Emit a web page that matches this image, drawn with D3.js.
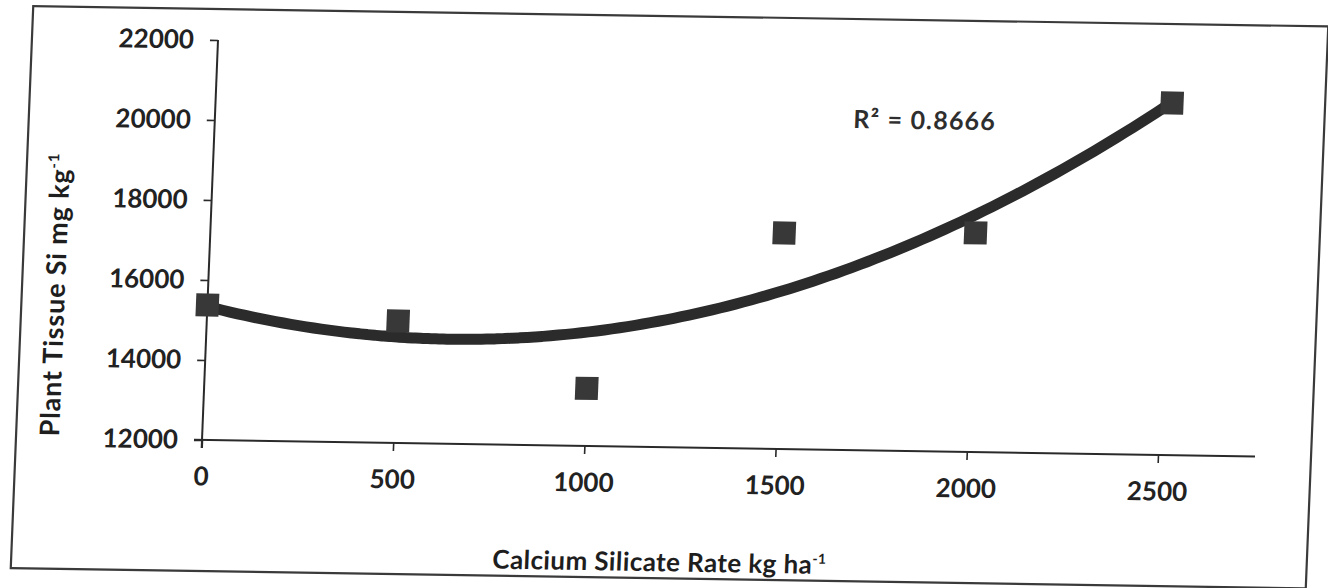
<!DOCTYPE html>
<html>
<head>
<meta charset="utf-8">
<script src="https://cdn.jsdelivr.net/npm/d3@7"></script>
<style>
  html, body { margin: 0; padding: 0; background: #ffffff; }
  svg { display: block; }
  text { font-family: Lato, "Open Sans", sans-serif; }
</style>
</head>
<body>
<svg id="chart" width="1328" height="588"></svg>
<script>
// ---- data ----
const rates = [0, 500, 1000, 1500, 2000, 2500];              // Calcium silicate rate, kg ha-1
const tissueSi = [15375, 15050, 13440, 17400, 17480, 20800]; // Plant tissue Si, mg kg-1
const xTickValues = [0, 500, 1000, 1500, 2000, 2500];
const yTickValues = [12000, 14000, 16000, 18000, 20000, 22000];
const r2Label = "R² = 0.8666";
const xTitle = "Calcium Silicate Rate kg ha";
const yTitle = "Plant Tissue Si mg kg";

// ---- layout ----
const W = 1328, H = 588;
const plotW = 956, plotH = 400;
const svg = d3.select("#chart");
svg.append("rect").attr("width", W).attr("height", H).attr("fill", "#fff");

// scanned page is slightly skewed; reproduce with a matrix on the chart group
const g = svg.append("g").attr("transform", "matrix(1,0.0157,-0.04,1,202,440)");

const x = d3.scaleLinear().domain([0, 2500]).range([0, plotW]);
const y = d3.scaleLinear().domain([12000, 22000]).range([0, -plotH]);

// outer frame
g.append("rect")
  .attr("x", -186).attr("y", -431).attr("width", 1295).attr("height", 562)
  .attr("fill", "none").attr("stroke", "#3a3a3a").attr("stroke-width", 2.2);

// axes
const ink = "#2a2a2a";
const xAxis = g.append("g")
  .call(d3.axisBottom(x).tickValues(xTickValues).tickSize(8).tickSizeOuter(0).tickPadding(19).tickFormat(d3.format("d")));
const yAxis = g.append("g")
  .call(d3.axisLeft(y).tickValues(yTickValues).tickSize(8).tickSizeOuter(0).tickPadding(16).tickFormat(d3.format("d")));
[xAxis, yAxis].forEach(a => {
  a.select(".domain").remove();
  a.selectAll(".tick line").attr("stroke", ink).attr("stroke-width", 1.6);
  a.selectAll(".tick text").attr("fill", "#222").style("font-size", "26px").style("font-weight", "bold");
});
// axis lines
g.append("line").attr("x1", -8).attr("x2", 1053).attr("y1", 0).attr("y2", 0)
  .attr("stroke", ink).attr("stroke-width", 2);
g.append("line").attr("x1", 0).attr("x2", 0).attr("y1", 8).attr("y2", y(22000))
  .attr("stroke", ink).attr("stroke-width", 2);

// quadratic trend line (least squares fit of the points)
function quadFit(xs, ys) {
  const n = xs.length;
  let s = [0,0,0,0,0], t = [0,0,0];
  for (let i = 0; i < n; i++) {
    const xi = xs[i], yi = ys[i];
    for (let k = 0; k < 5; k++) s[k] += Math.pow(xi, k);
    for (let k = 0; k < 3; k++) t[k] += yi * Math.pow(xi, k);
  }
  const M = [[s[0], s[1], s[2], t[0]], [s[1], s[2], s[3], t[1]], [s[2], s[3], s[4], t[2]]];
  for (let c = 0; c < 3; c++) {
    for (let r = c + 1; r < 3; r++) {
      const f = M[r][c] / M[c][c];
      for (let k = c; k < 4; k++) M[r][k] -= f * M[c][k];
    }
  }
  const b = [0,0,0];
  for (let r = 2; r >= 0; r--) {
    let v = M[r][3];
    for (let k = r + 1; k < 3; k++) v -= M[r][k] * b[k];
    b[r] = v / M[r][r];
  }
  return xv => b[0] + b[1] * xv + b[2] * xv * xv;
}
const fit = quadFit(rates, tissueSi);
const curve = d3.range(0, 2500 + 1, 20).map(v => [v, fit(v)]);
g.append("path")
  .datum(curve)
  .attr("d", d3.line().x(d => x(d[0])).y(d => y(d[1])).curve(d3.curveBasis))
  .attr("fill", "none").attr("stroke", "#2b2b2b").attr("stroke-width", 11)
  .attr("stroke-linecap", "round");

// markers
const ms = 23;
g.selectAll("rect.pt").data(rates.map((r, i) => [r, tissueSi[i]]))
  .enter().append("rect").attr("class", "pt")
  .attr("x", d => x(d[0]) - ms / 2).attr("y", d => y(d[1]) - ms / 2)
  .attr("width", ms).attr("height", ms).attr("fill", "#383838");

// R² annotation
g.append("text").attr("x", x(1669)).attr("y", y(20050))
  .attr("fill", "#2e2e2e").style("font-size", "25px").style("font-weight", "bold")
  .style("letter-spacing", "1.2px")
  .text(r2Label);

// axis titles
const xt = g.append("text").attr("x", 462).attr("y", 124).attr("text-anchor", "middle")
  .attr("fill", "#1e1e1e").style("font-size", "26px").style("font-weight", "bold")
  .style("letter-spacing", "0.4px");
xt.append("tspan").text(xTitle);
xt.append("tspan").attr("dy", -10).style("font-size", "14px").text("-1");

const yt = g.append("text").attr("transform", "translate(-143,-143) rotate(-90)")
  .attr("text-anchor", "middle").attr("fill", "#1e1e1e")
  .style("font-size", "27px").style("font-weight", "bold").style("letter-spacing", "0.8px");
yt.append("tspan").text(yTitle);
yt.append("tspan").attr("dy", -11).style("font-size", "15px").text("-1");
</script>
</body>
</html>
